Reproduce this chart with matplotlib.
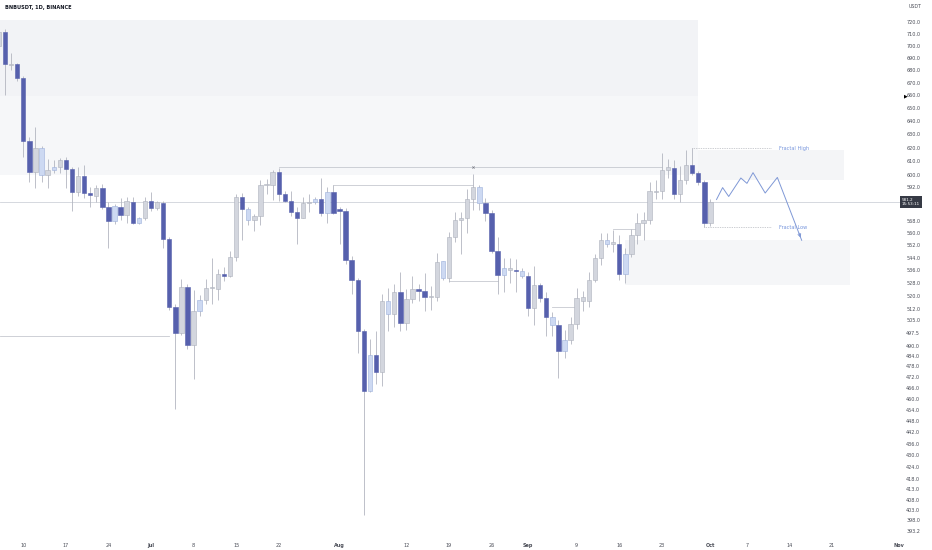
import matplotlib
matplotlib.use("Agg")
import matplotlib.pyplot as plt
import matplotlib.dates as mdates
import matplotlib.transforms as mtransforms
import numpy as np
import pandas as pd

# daily candles, BNBUSDT 2024-06-06 .. 2024-10-01
opens = [699.5, 711.7, 684.0, 685.0, 673.5, 625.0, 602.5, 619.5, 600.0, 604.0,
         606.0, 611.0, 604.5, 588.0, 599.3, 587.4, 585.5, 591.0, 577.5, 568.0,
         578.0, 572.5, 581.5, 567.0, 570.0,
         582.0, 577.0, 580.5, 556.2, 513.0, 497.4, 525.6, 490.3, 510.6, 517.1,
         524.5, 524.0, 533.8, 532.4, 544.4, 585.0, 576.2, 568.8, 571.7, 593.0,
         593.4, 602.5, 587.0, 582.0, 574.7, 570.6, 580.7, 581.6, 583.6, 574.0,
         588.0,
         576.6, 575.3, 542.8, 529.6, 498.6, 464.2, 484.8, 474.6, 517.0, 508.5,
         522.5, 503.4, 518.1, 524.4, 523.1, 519.2, 519.4, 541.7, 530.9, 557.4,
         569.2, 570.0, 583.2, 591.6, 580.9, 573.8, 548.3, 533.2, 536.0, 536.3,
         535.2,
         532.6, 512.3, 526.4, 518.5, 507.2, 502.1, 486.6, 493.5, 502.6, 517.0,
         517.0, 530.0, 543.9, 555.8, 553.2, 553.2, 533.4, 546.2, 559.2, 567.0,
         568.8, 588.2, 588.7, 604.0, 605.3, 587.0, 596.5, 607.5, 601.5, 595.5,
         567.2]
highs = [715.0, 714.0, 694.0, 686.0, 675.0, 628.0, 635.5, 621.0, 612.0, 611.0,
         612.5, 613.0, 606.0, 606.0, 607.5, 591.5, 593.0, 593.5, 581.5, 580.0,
         584.0, 584.5, 585.0, 571.0, 585.0,
         588.0, 582.0, 582.0, 557.5, 515.0, 530.5, 527.5, 523.5, 520.5, 530.5,
         544.0, 537.0, 538.0, 548.3, 587.0, 587.5, 578.0, 573.0, 596.5, 597.7,
         603.5, 605.0, 589.0, 589.0, 578.0, 585.0, 587.0, 585.0, 598.0, 591.5,
         593.0,
         578.0, 577.0, 545.0, 531.0, 500.0, 494.0, 498.5, 521.0, 525.0, 527.0,
         535.0, 524.0, 532.0, 527.5, 534.0, 526.0, 547.0, 542.0, 561.0, 574.5,
         574.5, 590.5, 601.0, 593.0, 584.0, 576.0, 557.5, 544.0, 544.0, 543.0,
         537.5,
         535.0, 538.5, 528.0, 522.0, 510.0, 505.0, 499.0, 507.0, 525.0, 523.0,
         535.0, 546.5, 560.0, 560.0, 562.0, 559.0, 550.0, 563.0, 574.0, 574.5,
         595.5, 596.5, 616.5, 612.0, 611.0, 607.0, 618.0, 619.6, 603.0, 597.0,
         583.5]
lows = [697.0, 660.0, 680.0, 671.0, 613.0, 595.0, 591.0, 595.0, 591.0, 601.5,
        601.5, 591.0, 575.0, 585.5, 584.0, 578.0, 581.3, 576.5, 550.5, 566.0,
        569.0, 567.0, 566.0, 566.0, 569.0,
        575.0, 575.5, 550.5, 511.5, 454.5, 496.0, 488.0, 471.0, 507.5, 515.0,
        515.0, 517.5, 529.4, 531.5, 542.0, 555.5, 565.4, 561.5, 565.5, 587.0,
        583.0, 582.0, 581.0, 572.0, 553.0, 570.0, 574.5, 580.0, 572.0, 567.0,
        573.0,
        553.0, 540.0, 521.0, 486.0, 400.4, 463.5, 468.0, 467.0, 498.5, 501.0,
        498.5, 499.0, 515.5, 517.0, 510.5, 511.0, 517.0, 530.0, 528.5, 554.0,
        546.5, 560.0, 575.5, 575.5, 568.0, 547.0, 521.0, 522.5, 528.0, 522.5,
        531.0,
        507.5, 502.0, 516.0, 495.5, 495.5, 471.5, 483.0, 491.0, 500.0, 510.5,
        513.0, 528.5, 539.0, 551.0, 548.0, 529.5, 528.0, 544.5, 553.0, 555.5,
        566.5, 583.5, 583.5, 598.0, 583.5, 581.5, 594.0, 600.0, 593.0, 564.2,
        564.8]
closes = [711.7, 684.8, 685.0, 673.5, 625.0, 602.5, 619.5, 600.0, 604.0, 606.0,
          611.0, 604.5, 588.0, 599.3, 587.2, 585.8, 591.3, 578.0, 568.2, 578.3,
          572.5, 582.0, 567.2, 570.0, 582.0,
          577.0, 581.0, 556.2, 513.0, 497.4, 525.6, 490.3, 510.6, 517.1, 524.5,
          524.8, 533.8, 532.4, 544.4, 585.0, 576.2, 568.8, 571.7, 593.4, 594.0,
          602.5, 587.0, 582.0, 574.7, 570.6, 580.9, 581.6, 583.6, 574.0, 588.0,
          574.0,
          575.3, 542.8, 529.6, 498.6, 464.2, 484.8, 474.6, 517.0, 508.5, 522.5,
          503.4, 518.1, 524.4, 523.1, 519.2, 519.6, 541.3, 530.9, 557.4, 569.2,
          570.3, 583.2, 591.6, 580.9, 573.8, 548.3, 533.2, 537.1, 537.1, 535.2,
          532.6,
          512.3, 526.4, 518.5, 507.2, 502.1, 486.6, 493.5, 502.6, 518.5, 519.0,
          530.0, 543.9, 555.8, 553.2, 553.6, 533.4, 546.2, 559.2, 567.0, 568.8,
          589.2, 589.2, 603.9, 606.0, 587.0, 596.5, 607.5, 601.5, 595.5, 567.2,
          581.2]
dates = pd.date_range("2024-06-06", periods=len(closes), freq="D")

# candles drawn in the pale blue tint
blue_days = ["2024-06-13", "2024-06-15", "2024-06-25", "2024-06-29", "2024-07-09",
             "2024-07-17", "2024-07-28", "2024-07-30", "2024-08-06", "2024-08-09",
             "2024-08-18", "2024-08-24", "2024-08-28", "2024-08-31", "2024-09-05",
             "2024-09-07", "2024-09-14", "2024-09-17"]

# levels drawn on the chart: (start, end, price)
levels = [("2024-07-22", "2024-09-23", 605.7),
          ("2024-07-31", "2024-08-23", 592.9),
          ("2024-06-01", "2024-07-04", 495.6),
          ("2024-08-19", "2024-08-27", 529.3),
          ("2024-09-05", "2024-09-09", 513.2),
          ("2024-09-15", "2024-09-19", 562.7)]

# projected path
path_dates = ["2024-10-02", "2024-10-03", "2024-10-04", "2024-10-06", "2024-10-07",
              "2024-10-08", "2024-10-10", "2024-10-12", "2024-10-16"]
path_prices = [583.0, 591.3, 585.1, 598.1, 594.3, 601.9, 587.5, 598.5, 555.4]

fractal_high = 619.6
fractal_low = 564.2
last_price = 581.2

# 584 and 576 sit under the last-price badge
price_ticks = [720, 710, 700, 690, 680, 670, 660, 650, 640, 630, 620, 610, 600, 592,
               568, 560, 552, 544, 536, 528, 520, 512, 505, 497.5, 490, 484,
               478, 472, 466, 460, 454, 448, 442, 436, 430, 424, 418, 413, 408, 403,
               398, 393.2]
date_ticks = ["2024-06-10", "2024-06-17", "2024-06-24", "2024-07-01", "2024-07-08",
              "2024-07-15", "2024-07-22", "2024-08-01", "2024-08-12", "2024-08-19",
              "2024-08-26", "2024-09-01", "2024-09-09", "2024-09-16", "2024-09-23",
              "2024-10-01", "2024-10-07", "2024-10-14", "2024-10-21", "2024-11-01"]
date_labels = ["10", "17", "24", "Jul", "8", "15", "22", "Aug", "12", "19", "26",
               "Sep", "9", "16", "23", "Oct", "7", "14", "21", "Nov"]


def dn(s):
    return mdates.date2num(pd.Timestamp(s).to_pydatetime())


DARK = "#5660ad"
GRAY = "#d3d6de"
GRAY_EDGE = "#adb1bc"
BLUE = "#cdd9f2"
BLUE_EDGE = "#9db0db"
WICK = "#b3b6c0"

fig = plt.figure(figsize=(9.32, 5.5), dpi=100)
ax = fig.add_axes([0, 1 - 538 / 550, 900 / 932, 524 / 550])
ax.set_yscale("log")

x0 = dn("2024-06-10") - 3.83
x1 = dn("2024-06-10") + 144.17

# zones
ax.fill_between([x0, dn("2024-09-29")], 600.5, 721.7, color="#f6f7f9", lw=0, zorder=0)
ax.fill_between([x0, dn("2024-09-29")], 659.4, 721.7, color="#f2f3f6", lw=0, zorder=0)
ax.fill_between([dn("2024-09-29"), dn("2024-10-23")], 596.5, 618.2, color="#f4f5f7", lw=0, zorder=0)
ax.fill_between([dn("2024-09-17"), dn("2024-10-24")], 526.5, 555.4, color="#f5f6f8", lw=0, zorder=0)

# price line and levels
ax.axhline(last_price, color="#cfd2d9", lw=0.6, zorder=1)
for a, b, p in levels:
    xa = max(dn(a), x0)
    ax.plot([xa, dn(b)], [p, p], color="#c6c9d0", lw=0.6, zorder=1)
ax.plot(dn("2024-08-23"), 605.7, marker="x", ms=1.6, mew=0.5, color="#777a84", zorder=2)

# candles
xs = mdates.date2num(dates.to_pydatetime())
blue_set = set(pd.to_datetime(blue_days))
for d, x, o, h, l, c in zip(dates, xs, opens, highs, lows, closes):
    if d in blue_set:
        fc, ec = BLUE, BLUE_EDGE
    elif c < o:
        fc, ec = DARK, DARK
    else:
        fc, ec = GRAY, GRAY_EDGE
    ax.vlines(x, l, h, color=WICK, lw=0.6, zorder=2)
    lo, hi = min(o, c), max(o, c)
    hi = max(hi, lo * 1.0015)
    ax.bar(x, hi - lo, bottom=lo, width=0.72, color=fc, edgecolor=ec, lw=0.4, zorder=3)

# fractal markers
ax.plot([dn("2024-09-28"), dn("2024-10-11")], [fractal_high] * 2, color="#9a9da6",
        lw=0.5, ls=(0, (1, 1.5)), zorder=2)
ax.plot([dn("2024-09-30"), dn("2024-10-11")], [fractal_low] * 2, color="#9a9da6",
        lw=0.5, ls=(0, (1, 1.5)), zorder=2)
ax.text(dn("2024-10-12") + 0.3, fractal_high, "Fractal High", color="#7594dc",
        fontsize=3.6, va="center", ha="left")
ax.text(dn("2024-10-12") + 0.3, fractal_low, "Fractal Low", color="#7594dc",
        fontsize=3.6, va="center", ha="left")

# projected path
px = [dn(s) for s in path_dates]
ax.plot(px, path_prices, color="#7f98d6", lw=0.7, zorder=4)
ax.annotate("", xy=(px[-1], path_prices[-1]), xytext=(px[-2] + (px[-1] - px[-2]) * 0.85,
            path_prices[-2] + (path_prices[-1] - path_prices[-2]) * 0.85),
            arrowprops=dict(arrowstyle="->", color="#7f98d6", lw=0.7, mutation_scale=5))

ax.set_xlim(x0, x1)
ax.set_ylim(389.8, 726.9)

ax.yaxis.tick_right()
ax.set_yticks(price_ticks)
ax.set_yticklabels([f"{t:.1f}" for t in price_ticks])
ax.yaxis.set_minor_locator(matplotlib.ticker.NullLocator())
ax.set_xticks([dn(s) for s in date_ticks])
ax.set_xticklabels(date_labels)
for lab in ax.get_xticklabels():
    if lab.get_text() in ("Jul", "Aug", "Sep", "Oct", "Nov"):
        lab.set_fontweight("bold")
ax.tick_params(axis="y", length=0, labelsize=3.5, pad=4.5, colors="#4a4d57")
ax.tick_params(axis="x", length=0, labelsize=3.5, pad=3.5, colors="#4a4d57")
for s in ax.spines.values():
    s.set_visible(False)

# last price badge
tr = mtransforms.blended_transform_factory(ax.transAxes, ax.transData)
ax.text(1.002, last_price, "581.2\n15:53:11", transform=tr, fontsize=3.0, color="white",
        va="center", ha="left", linespacing=1.2, zorder=10, clip_on=False,
        bbox=dict(boxstyle="square,pad=0.45", fc="#363a45", ec="none"))

fig.text(906 / 932, 1 - 96 / 550, "\u25B6", fontsize=3.5, color="black", va="center", ha="center")
fig.text(5 / 932, 1 - 7 / 550, "BNBUSDT, 1D, BINANCE", fontsize=3.6, color="#131722",
         fontweight="bold", va="center", ha="left")
fig.text(915 / 932, 1 - 7 / 550, "USDT", fontsize=3.4, color="#4a4d57", va="center", ha="center")

fig.savefig("out.png", dpi=100, facecolor="white")
